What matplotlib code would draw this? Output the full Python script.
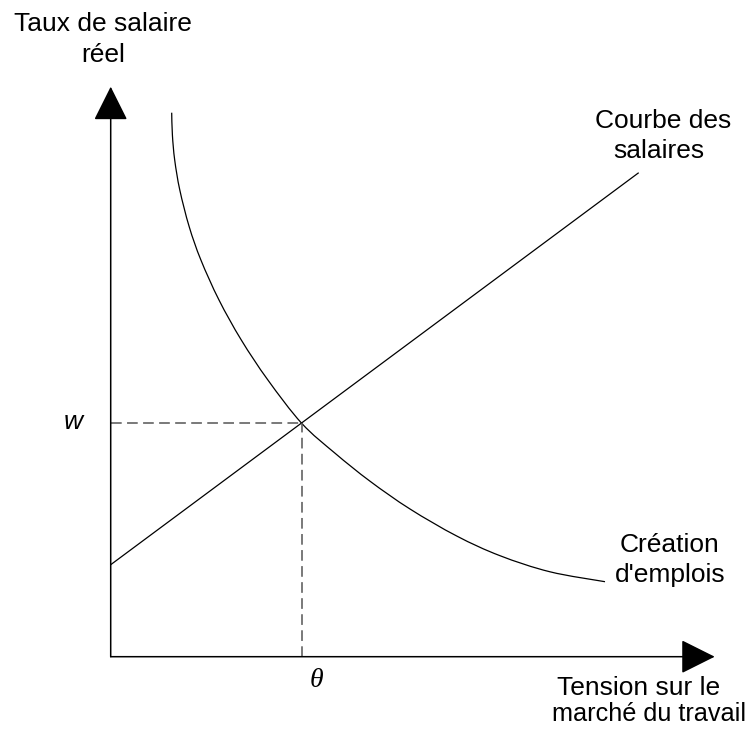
import matplotlib
matplotlib.use("Agg")
import matplotlib.pyplot as plt
from matplotlib.path import Path
from matplotlib.patches import PathPatch

# ---- data (x = tension on labour market, y = real wage), units of 100 px ----
job_x = [0.610, 0.617, 0.640, 0.691, 0.785, 0.902, 1.083, 1.306, 1.572, 1.910,
         2.243, 2.593, 2.993, 3.460, 3.893, 4.393, 4.943]
job_y = [5.440, 5.217, 4.967, 4.667, 4.300, 3.967, 3.567, 3.167, 2.767, 2.334,
         2.035, 1.755, 1.477, 1.207, 1.010, 0.849, 0.750]
wage_x = [0.00, 5.28]
wage_y = [0.92, 4.84]
theta_eq = 1.91
w_eq = 2.334
x_axis_end = 6.04
y_axis_end = 5.70

FS = 19
FONT = "Liberation Sans"

fig = plt.figure(figsize=(7.48, 7.33), dpi=100)
ax = fig.add_axes([0, 0, 1, 1])
ax.set_xlim(-1.107, 7.48 - 1.107)
ax.set_ylim(-(7.33 - 6.567), 6.567)
ax.axis("off")

# axes with arrow heads
arrow_kw = dict(arrowstyle="-|>,head_length=0.4,head_width=0.2", mutation_scale=54,
                lw=1.1, color="black", shrinkA=0, shrinkB=0)
ax.annotate("", xy=(0, y_axis_end), xytext=(0, 0), arrowprops=arrow_kw)
ax.annotate("", xy=(x_axis_end, 0), xytext=(0, 0), arrowprops=arrow_kw)

# wage curve (straight line)
ax.plot(wage_x, wage_y, color="black", lw=0.9, solid_capstyle="butt")

# job creation curve: cubic Bezier segments passing through the read points
pts = list(zip(job_x, job_y))
n = len(pts)
verts = [pts[0]]
codes = [Path.MOVETO]
for i in range(n - 1):
    p0 = pts[i - 1] if i > 0 else pts[i]
    p1 = pts[i]
    p2 = pts[i + 1]
    p3 = pts[i + 2] if i + 2 < n else pts[i + 1]
    c1 = (p1[0] + (p2[0] - p0[0]) / 6, p1[1] + (p2[1] - p0[1]) / 6)
    c2 = (p2[0] - (p3[0] - p1[0]) / 6, p2[1] - (p3[1] - p1[1]) / 6)
    verts += [c1, c2, p2]
    codes += [Path.CURVE4] * 3
ax.add_patch(PathPatch(Path(verts, codes), facecolor="none", edgecolor="black", lw=0.9))

# dashed equilibrium guides
dash_kw = dict(color="#555555", lw=1.1, dashes=(7, 3.5))
ax.plot([0, theta_eq], [w_eq, w_eq], **dash_kw)
ax.plot([theta_eq, theta_eq], [0, w_eq], **dash_kw)

# labels (each line placed at its baseline)
def lab(x, y, s, size=FS, **kw):
    ax.text(x, y, s, ha="center", va="baseline", fontsize=size, family=FONT, **kw)

lab(-0.077, 6.567 - 0.31, "Taux de salaire")
lab(-0.077, 6.567 - 0.62, "réel")
lab(5.52, 6.567 - 1.28, "Courbe des")
lab(5.48, 6.567 - 1.58, "salaires")
lab(5.59, 6.567 - 5.52, "Création")
lab(5.59, 6.567 - 5.82, "d'emplois")
lab(5.28, 6.567 - 6.95, "Tension sur le")
lab(5.38, 6.567 - 7.21, "marché du travail", size=18.2)
ax.text(-0.38, 6.567 - 4.29, "w", ha="center", va="baseline", fontsize=FS,
        family=FONT, style="italic")
ax.text(2.06, 6.567 - 6.87, "θ", ha="center", va="baseline", fontsize=FS + 1,
        family="Liberation Serif", style="italic")

fig.savefig("out.png", dpi=100)
